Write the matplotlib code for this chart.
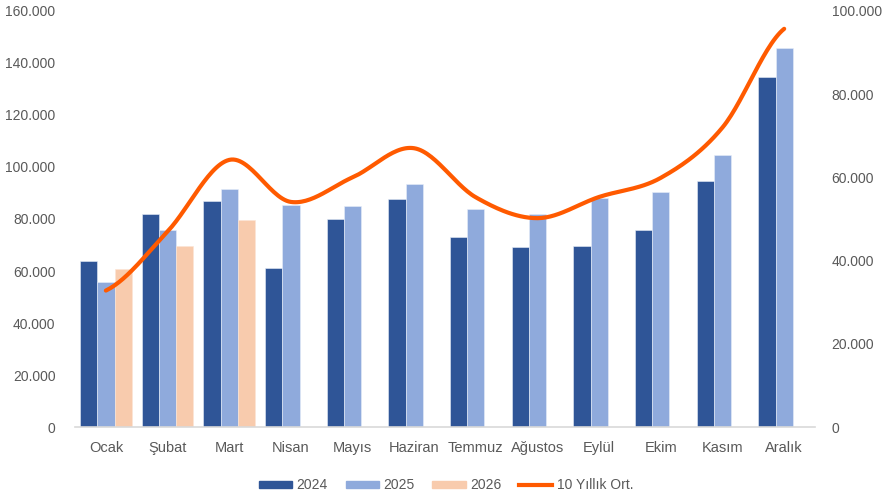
import numpy as np
import matplotlib.pyplot as plt
from matplotlib.lines import Line2D
from matplotlib.patches import Patch

plt.rcParams['font.family'] = ['Liberation Sans', 'DejaVu Sans']

aylar = ["Ocak", "Şubat", "Mart", "Nisan", "Mayıs", "Haziran", "Temmuz",
         "Ağustos", "Eylül", "Ekim", "Kasım", "Aralık"]
y2024 = [64000, 81900, 86800, 61300, 79900, 87800, 73100, 69100, 69500, 75600, 94600, 134700]
y2025 = [55600, 75900, 91500, 85400, 85000, 93600, 84000, 81900, 88000, 90500, 104500, 145900]
y2026 = [60800, 69700, 79600]
ort10 = [32800, 47000, 64200, 54100, 60000, 67000, 55200, 50200, 55300, 59900, 72000, 95700]

c24 = '#2F5597'
c25 = '#8FAADC'
c26 = '#F8CBAD'
cline = '#FF5A00'
grey = '#595959'


def smooth(xs, ys, n=30):
    # catmull-rom style smoothing like excel's smoothed line
    xs = np.asarray(xs, float)
    ys = np.asarray(ys, float)
    px = np.concatenate([[2 * xs[0] - xs[1]], xs, [2 * xs[-1] - xs[-2]]])
    py = np.concatenate([[ys[0]], ys, [ys[-1]]])
    outx, outy = [], []
    for i in range(1, len(px) - 2):
        p0, p1, p2, p3 = np.array([px[i-1], py[i-1]]), np.array([px[i], py[i]]), \
            np.array([px[i+1], py[i+1]]), np.array([px[i+2], py[i+2]])
        c1 = p1 + (p2 - p0) / 6
        c2 = p2 - (p3 - p1) / 6
        t = np.linspace(0, 1, n)[:, None]
        b = (1-t)**3 * p1 + 3*(1-t)**2*t * c1 + 3*(1-t)*t**2 * c2 + t**3 * p2
        outx.extend(b[:, 0])
        outy.extend(b[:, 1])
    return outx, outy


fig = plt.figure(figsize=(8.83, 4.96), dpi=100)
ax = fig.add_axes([0.085, 0.139, 0.838, 0.839])
ax2 = ax.twinx()

x = np.arange(len(aylar))
w = 0.28
ax.bar(x - w, y2024, w, color=c24, edgecolor='#E8EEF8', linewidth=0.4, zorder=2)
ax.bar(x, y2025, w, color=c25, edgecolor='#E8EEF8', linewidth=0.4, zorder=2)
ax.bar(x[:len(y2026)] + w, y2026, w, color=c26, edgecolor='#FBE5D6', linewidth=0.4, zorder=2)

sx, sy = smooth(x, ort10)
ax2.plot(sx, sy, color=cline, linewidth=3, solid_capstyle='round', zorder=3)

ax.set_xlim(-0.5, len(aylar) - 0.5)
ax.set_ylim(0, 160000)
ax2.set_ylim(0, 100000)
ax.set_yticks(np.arange(0, 160001, 20000))
ax2.set_yticks(np.arange(0, 100001, 20000))


def fmt(v):
    return '0' if v == 0 else '{:,.0f}'.format(v).replace(',', '.')


ax.set_yticklabels([fmt(v) for v in ax.get_yticks()])
ax2.set_yticklabels([fmt(v) for v in ax2.get_yticks()])
ax.set_xticks(x)
ax.set_xticklabels(aylar)

for a in (ax, ax2):
    for s in a.spines.values():
        s.set_visible(False)
    a.tick_params(length=0, colors=grey, labelsize=10)
ax.tick_params(axis='x', labelsize=10.5)
ax.spines['bottom'].set_visible(True)
ax.spines['bottom'].set_color('#D9D9D9')
ax.spines['bottom'].set_linewidth(1.2)
ax.tick_params(axis='x', pad=10)
ax.tick_params(axis='y', pad=14)
ax2.tick_params(axis='y', pad=12)

handles = [Patch(color=c24, label='2024'), Patch(color=c25, label='2025'),
           Patch(color=c26, label='2026'),
           Line2D([], [], color=cline, linewidth=3, label='10 Yıllık Ort.')]
leg = fig.legend(handles=handles, loc='lower center', bbox_to_anchor=(0.505, -0.018), ncol=4,
                 frameon=False, fontsize=10, handlelength=2.4, handleheight=0.5,
                 columnspacing=1.3, handletextpad=0.3)
for t in leg.get_texts():
    t.set_color(grey)

fig.savefig('out.png', dpi=100)
